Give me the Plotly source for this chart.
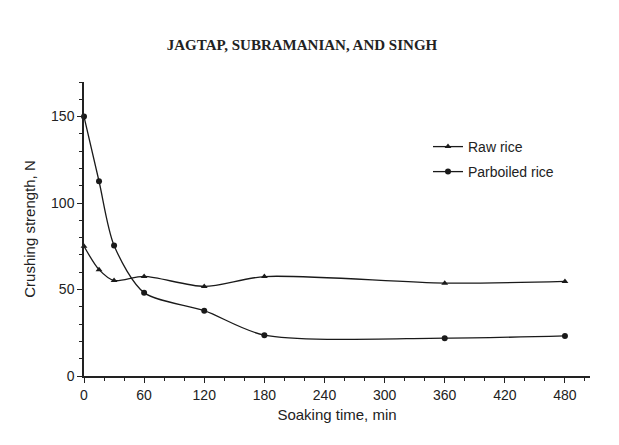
import plotly.graph_objects as go

soak_time = [0, 15, 30, 60, 120, 180, 360, 480]
raw_rice = [75, 61.5, 55.2, 57.6, 51.8, 57.5, 53.7, 54.7]
parboiled_rice = [150, 112.6, 75.5, 48.2, 37.8, 23.6, 21.9, 23.2]
x_ticks = [0, 60, 120, 180, 240, 300, 360, 420, 480]
y_ticks = [0, 50, 100, 150]

font = "Liberation Sans, Arial, sans-serif"
W, H = 611, 437

fig = go.Figure()
fig.add_trace(go.Scatter(
    x=soak_time, y=raw_rice, name="Raw rice", mode="lines+markers", legend="legend",
    line=dict(color="#1a1a1a", width=1.3, shape="spline", smoothing=0.8),
    marker=dict(symbol="triangle-up", size=6, color="#1a1a1a"), cliponaxis=False))
fig.add_trace(go.Scatter(
    x=soak_time, y=parboiled_rice, name="Parboiled rice", mode="lines+markers", legend="legend2",
    line=dict(color="#1a1a1a", width=1.3, shape="spline", smoothing=0.8),
    marker=dict(symbol="circle", size=6, color="#1a1a1a"), cliponaxis=False))

L, R, T, B = 76, 29, 74, 69
pw = W - L - R
ph = H - T - B

def lx(px):
    return (px - 8 - L) / pw

def ly(py):
    return 1 - (py - 8 - T) / ph

leg_common = dict(xanchor="left", yanchor="middle", bgcolor="rgba(0,0,0,0)",
                  font=dict(size=14, family=font, color="#222"), itemwidth=30)

fig.update_layout(
    width=W, height=H,
    margin=dict(l=L, r=R, t=T, b=B),
    paper_bgcolor="white", plot_bgcolor="white",
    font=dict(family=font, size=14, color="#222"),
    title=dict(text="<b>JAGTAP, SUBRAMANIAN, AND SINGH</b>", xref="container", x=294 / W,
               y=1 - 37 / H, yanchor="middle", xanchor="center",
               font=dict(family="Liberation Serif, Times New Roman, serif", size=15, color="#222")),
    legend=dict(x=lx(428), y=ly(147), **leg_common),
    legend2=dict(x=lx(428), y=ly(172), **leg_common),
    showlegend=True,
)

fig.update_xaxes(
    range=[0, 505], tickvals=x_ticks, showgrid=False, zeroline=False,
    showline=True, linecolor="#222", linewidth=1.5,
    ticks="outside", ticklen=5, tickwidth=1.3, tickcolor="#222",
    minor=dict(dtick=20, tick0=0, ticks="outside", ticklen=3, tickcolor="#222", showgrid=False),
    title=dict(text="Soaking time, min", standoff=8, font=dict(size=15)),
)
fig.update_yaxes(
    range=[0, 170], tickvals=y_ticks, showgrid=False, zeroline=False,
    showline=True, linecolor="#222", linewidth=1.5,
    ticks="outside", ticklen=5, tickwidth=1.3, tickcolor="#222",
    minor=dict(dtick=10, tick0=0, ticks="outside", ticklen=3, tickcolor="#222", showgrid=False),
    title=dict(text="Crushing strength, N", standoff=12, font=dict(size=15)),
)

fig.write_html("out.html")
